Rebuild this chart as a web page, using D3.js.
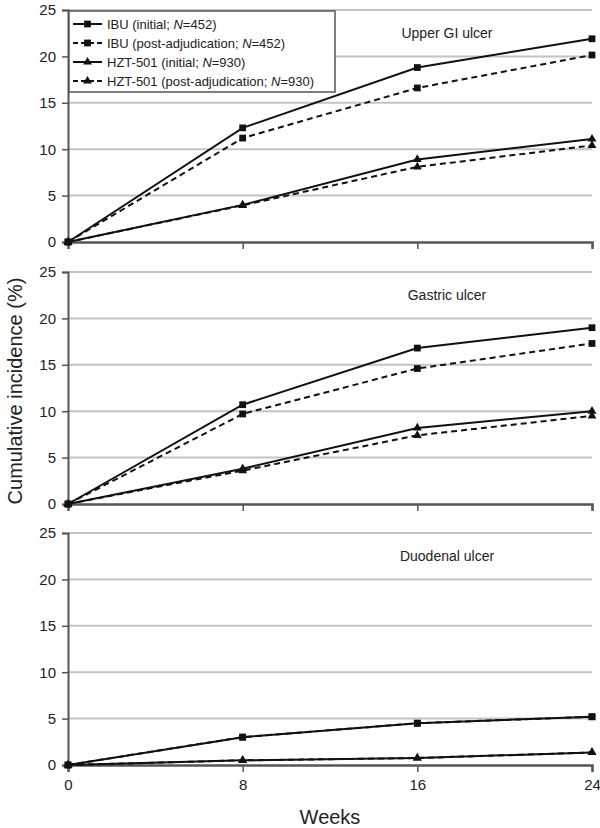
<!DOCTYPE html>
<html lang="en">
<head>
    <meta charset="UTF-8">
    <title>Cumulative incidence</title>
    <style>
        body { margin: 0; background: #fff; }
        text { font-family: "Liberation Sans", Arial, sans-serif; fill: #222; }
    </style>
</head>
<body>
    <div id="chart-container"></div>
    <script src="https://d3js.org/d3.v7.min.js"></script>
    <script>
        // data
        const weeks = [0, 8, 16, 24];
        const yTicks = [0, 5, 10, 15, 20, 25];
        const panels = ["Upper GI ulcer", "Gastric ulcer", "Duodenal ulcer"];

        const ibuInitial = [
            [0, 12.3, 18.8, 21.9],
            [0, 10.7, 16.8, 19.0],
            [0, 3.0, 4.5, 5.2]
        ];
        const ibuPost = [
            [0, 11.2, 16.6, 20.15],
            [0, 9.7, 14.6, 17.3],
            [0, 3.0, 4.5, 5.2]
        ];
        const hztInitial = [
            [0, 4.0, 8.9, 11.1],
            [0, 3.8, 8.2, 10.0],
            [0, 0.5, 0.75, 1.35]
        ];
        const hztPost = [
            [0, 3.95, 8.1, 10.4],
            [0, 3.6, 7.4, 9.5],
            [0, 0.5, 0.75, 1.35]
        ];

        const seriesInfo = [
            {name: "IBU (initial; ", n: "452", values: ibuInitial, dashed: false, marker: "square"},
            {name: "IBU (post-adjudication; ", n: "452", values: ibuPost, dashed: true, marker: "square"},
            {name: "HZT-501 (initial; ", n: "930", values: hztInitial, dashed: false, marker: "triangle"},
            {name: "HZT-501 (post-adjudication; ", n: "930", values: hztPost, dashed: true, marker: "triangle"}
        ];

        const W = 600, H = 828;
        const LEFT = 68, RIGHT = 592;
        const PANEL_TOPS = [10, 272, 533];
        const PANEL_H = 232;

        const svg = d3.select("#chart-container").append("svg")
            .attr("width", W)
            .attr("height", H);

        const x = d3.scaleLinear().domain([0, 24]).range([LEFT, RIGHT]);

        const symbolFor = m => m === "square"
            ? d3.symbol().type(d3.symbolSquare).size(46)
            : d3.symbol().type(d3.symbolTriangle).size(34);

        panels.forEach((title, p) => {
            const top = PANEL_TOPS[p];
            const y = d3.scaleLinear().domain([0, 25]).range([top + PANEL_H, top]);
            const g = svg.append("g");

            // gridlines
            g.selectAll(".grid").data(yTicks.filter(t => t > 0)).enter().append("line")
                .attr("x1", LEFT).attr("x2", RIGHT)
                .attr("y1", d => y(d)).attr("y2", d => y(d))
                .attr("stroke", "#c4c4c4").attr("stroke-width", 2);

            // y axis
            const yAxis = d3.axisLeft(y).tickValues(yTicks).tickSize(6).tickPadding(6);
            const ya = g.append("g").attr("transform", `translate(${LEFT},0)`).call(yAxis);
            ya.select(".domain").attr("stroke", "#555").attr("stroke-width", 2);
            ya.selectAll(".tick line").attr("stroke", "#555").attr("stroke-width", 1.5);
            ya.selectAll(".tick text").attr("font-size", 15).attr("fill", "#222")
                .attr("font-family", "Liberation Sans, Arial, sans-serif");

            // x axis
            const xAxis = d3.axisBottom(x).tickValues(weeks).tickSize(7).tickPadding(7)
                .tickFormat(p === 2 ? d3.format("d") : () => "");
            const xa = g.append("g").attr("transform", `translate(0,${y(0)})`).call(xAxis);
            xa.select(".domain").attr("stroke", "#555").attr("stroke-width", 2.5);
            xa.selectAll(".tick line").attr("stroke", "#555").attr("stroke-width", 1.5);
            xa.selectAll(".tick").filter(d => d === 0).select("line").remove();
            xa.selectAll(".tick text").attr("font-size", 15).attr("fill", "#222")
                .attr("font-family", "Liberation Sans, Arial, sans-serif");

            // title
            g.append("text")
                .attr("x", 447).attr("y", top + 28)
                .attr("text-anchor", "middle")
                .attr("font-size", 14)
                .text(title);

            // lines and markers
            seriesInfo.forEach(s => {
                const vals = s.values[p];
                const pts = weeks.map((w, i) => [w, vals[i]]);
                g.append("path")
                    .datum(pts)
                    .attr("fill", "none")
                    .attr("stroke", "#111")
                    .attr("stroke-width", 2)
                    .attr("stroke-dasharray", s.dashed ? "6,4" : null)
                    .attr("d", d3.line().x(d => x(d[0])).y(d => y(d[1])));
                g.selectAll(null).data(pts).enter().append("path")
                    .attr("transform", d => `translate(${x(d[0])},${y(d[1])})`)
                    .attr("d", symbolFor(s.marker))
                    .attr("fill", "#111");
            });
        });

        // legend in the first panel
        const lg = svg.append("g");
        lg.append("rect")
            .attr("x", 69).attr("y", 11)
            .attr("width", 266).attr("height", 81)
            .attr("fill", "#fff")
            .attr("stroke", "#555").attr("stroke-width", 1.5);
        seriesInfo.forEach((s, i) => {
            const ly = 24 + i * 19;
            lg.append("line")
                .attr("x1", 73).attr("x2", 102)
                .attr("y1", ly).attr("y2", ly)
                .attr("stroke", "#111").attr("stroke-width", 2)
                .attr("stroke-dasharray", s.dashed ? "5,3" : null);
            lg.append("path")
                .attr("transform", `translate(87.5,${ly})`)
                .attr("d", symbolFor(s.marker))
                .attr("fill", "#111");
            const t = lg.append("text")
                .attr("x", 107).attr("y", ly + 4.5)
                .attr("font-size", 13);
            t.append("tspan").text(s.name);
            t.append("tspan").attr("font-style", "italic").text("N");
            t.append("tspan").text("=" + s.n + ")");
        });

        // axis titles
        svg.append("text")
            .attr("x", LEFT + (RIGHT - LEFT) / 2).attr("y", 824)
            .attr("text-anchor", "middle")
            .attr("font-size", 20)
            .text("Weeks");
        svg.append("text")
            .attr("transform", "translate(22,391) rotate(-90)")
            .attr("text-anchor", "middle")
            .attr("font-size", 20)
            .text("Cumulative incidence (%)");
    </script>
</body>
</html>
